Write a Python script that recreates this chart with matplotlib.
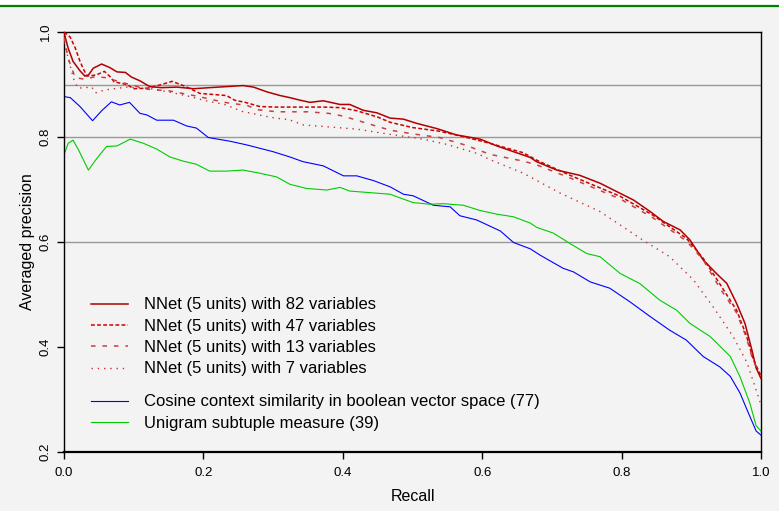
"""Averaged precision vs recall, NNet vs similarity measures."""
import numpy as np
import matplotlib
matplotlib.use('Agg')
from matplotlib import pyplot as plt
from matplotlib.lines import Line2D
from matplotlib.patches import Rectangle

plt.rcParams['font.family'] = ['Liberation Sans', 'DejaVu Sans']

# NNet (5 units) with 82 variables
recall_82 = [0.000, 0.001, 0.006, 0.013, 0.023, 0.030, 0.035, 0.042, 0.054, 0.066,
             0.076, 0.088, 0.097, 0.109, 0.123, 0.140, 0.162, 0.186, 0.209, 0.233,
             0.257, 0.272, 0.291, 0.310, 0.324, 0.339, 0.353, 0.372, 0.396, 0.410,
             0.429, 0.449, 0.468, 0.487, 0.506, 0.535, 0.563, 0.597, 0.621, 0.645,
             0.669, 0.678, 0.707, 0.740, 0.769, 0.793, 0.817, 0.841, 0.860, 0.884,
             0.898, 0.917, 0.936, 0.951, 0.965, 0.977, 0.987, 0.993, 1.000]
prec_82 = [1.000, 0.994, 0.969, 0.944, 0.926, 0.916, 0.918, 0.931, 0.939, 0.932,
           0.924, 0.923, 0.914, 0.907, 0.896, 0.894, 0.895, 0.892, 0.894, 0.896,
           0.898, 0.895, 0.886, 0.879, 0.875, 0.870, 0.866, 0.869, 0.862, 0.862,
           0.851, 0.846, 0.836, 0.834, 0.826, 0.816, 0.804, 0.796, 0.783, 0.772,
           0.761, 0.753, 0.737, 0.727, 0.712, 0.696, 0.680, 0.658, 0.639, 0.623,
           0.604, 0.566, 0.540, 0.521, 0.483, 0.445, 0.394, 0.360, 0.340]

# NNet (5 units) with 47 variables
recall_47 = [0.000, 0.009, 0.016, 0.023, 0.028, 0.033, 0.046, 0.058, 0.066, 0.072,
             0.090, 0.100, 0.120, 0.140, 0.155, 0.173, 0.181, 0.195, 0.214, 0.233,
             0.245, 0.260, 0.281, 0.305, 0.340, 0.372, 0.396, 0.420, 0.450, 0.468,
             0.500, 0.539, 0.575, 0.611, 0.659, 0.678, 0.726, 0.798, 0.845, 0.893,
             0.917, 0.941, 0.965, 0.979, 0.989, 1.000]
prec_47 = [1.000, 0.990, 0.970, 0.944, 0.929, 0.916, 0.918, 0.925, 0.915, 0.905,
           0.900, 0.892, 0.893, 0.900, 0.906, 0.897, 0.892, 0.883, 0.881, 0.879,
           0.870, 0.866, 0.858, 0.857, 0.857, 0.857, 0.856, 0.850, 0.838, 0.828,
           0.818, 0.811, 0.800, 0.788, 0.770, 0.756, 0.727, 0.687, 0.651, 0.607,
           0.569, 0.520, 0.470, 0.422, 0.376, 0.345]

# NNet (5 units) with 13 variables
recall_13 = [0.000, 0.006, 0.016, 0.030, 0.045, 0.060, 0.080, 0.100, 0.120, 0.150,
             0.190, 0.230, 0.263, 0.277, 0.306, 0.350, 0.380, 0.400, 0.420, 0.450,
             0.468, 0.500, 0.539, 0.575, 0.611, 0.659, 0.678, 0.726, 0.798, 0.845,
             0.893, 0.917, 0.941, 0.965, 0.979, 0.989, 1.000]
prec_13 = [0.990, 0.950, 0.913, 0.910, 0.915, 0.913, 0.905, 0.898, 0.891, 0.888,
           0.878, 0.866, 0.860, 0.852, 0.848, 0.848, 0.845, 0.840, 0.832, 0.820,
           0.813, 0.806, 0.799, 0.785, 0.767, 0.754, 0.747, 0.722, 0.682, 0.646,
           0.602, 0.566, 0.512, 0.465, 0.418, 0.372, 0.350]

# NNet (5 units) with 7 variables
recall_7 = [0.000, 0.010, 0.014, 0.020, 0.040, 0.045, 0.060, 0.090, 0.120, 0.150,
            0.181, 0.200, 0.230, 0.240, 0.257, 0.270, 0.287, 0.303, 0.323, 0.343,
            0.373, 0.420, 0.468, 0.515, 0.549, 0.592, 0.611, 0.659, 0.712, 0.769,
            0.830, 0.869, 0.903, 0.931, 0.960, 0.980, 0.995, 1.000]
prec_7 = [0.980, 0.930, 0.910, 0.893, 0.895, 0.884, 0.890, 0.895, 0.893, 0.886,
          0.877, 0.870, 0.862, 0.857, 0.848, 0.845, 0.840, 0.836, 0.833, 0.823,
          0.820, 0.815, 0.805, 0.796, 0.786, 0.769, 0.757, 0.731, 0.693, 0.658,
          0.604, 0.572, 0.528, 0.477, 0.420, 0.370, 0.310, 0.290]

# Cosine context similarity in boolean vector space (77)
recall_cos = [0.000, 0.009, 0.023, 0.041, 0.054, 0.068, 0.080, 0.094, 0.109, 0.119,
              0.133, 0.157, 0.176, 0.190, 0.207, 0.238, 0.262, 0.300, 0.324, 0.343,
              0.372, 0.401, 0.420, 0.444, 0.468, 0.487, 0.501, 0.530, 0.554, 0.568,
              0.592, 0.626, 0.645, 0.669, 0.683, 0.716, 0.731, 0.755, 0.783, 0.812,
              0.841, 0.869, 0.893, 0.917, 0.941, 0.956, 0.970, 0.982, 0.993, 1.000]
prec_cos = [0.877, 0.875, 0.858, 0.831, 0.850, 0.867, 0.861, 0.866, 0.845, 0.842,
            0.832, 0.832, 0.821, 0.817, 0.799, 0.792, 0.785, 0.772, 0.762, 0.753,
            0.745, 0.726, 0.726, 0.717, 0.705, 0.691, 0.688, 0.670, 0.667, 0.650,
            0.642, 0.621, 0.599, 0.587, 0.575, 0.550, 0.543, 0.524, 0.512, 0.486,
            0.458, 0.432, 0.413, 0.382, 0.362, 0.344, 0.312, 0.274, 0.240, 0.232]

# Unigram subtuple measure (39)
recall_uni = [0.000, 0.006, 0.013, 0.021, 0.035, 0.047, 0.061, 0.076, 0.095, 0.114,
              0.133, 0.152, 0.171, 0.190, 0.209, 0.233, 0.257, 0.281, 0.305, 0.324,
              0.348, 0.377, 0.396, 0.410, 0.439, 0.468, 0.482, 0.501, 0.525, 0.544,
              0.573, 0.597, 0.621, 0.645, 0.669, 0.678, 0.702, 0.726, 0.750, 0.769,
              0.798, 0.826, 0.855, 0.879, 0.898, 0.927, 0.956, 0.970, 0.984, 0.993,
              1.000]
prec_uni = [0.766, 0.788, 0.794, 0.775, 0.737, 0.759, 0.782, 0.783, 0.796, 0.788,
            0.777, 0.762, 0.754, 0.748, 0.735, 0.735, 0.737, 0.731, 0.724, 0.710,
            0.702, 0.699, 0.704, 0.697, 0.694, 0.691, 0.684, 0.675, 0.672, 0.673,
            0.670, 0.660, 0.653, 0.648, 0.636, 0.628, 0.617, 0.597, 0.578, 0.572,
            0.540, 0.521, 0.489, 0.470, 0.445, 0.420, 0.382, 0.343, 0.293, 0.250,
            0.240]

labels = ['NNet (5 units) with 82 variables',
          'NNet (5 units) with 47 variables',
          'NNet (5 units) with 13 variables',
          'NNet (5 units) with 7 variables',
          'Cosine context similarity in boolean vector space (77)',
          'Unigram subtuple measure (39)']

bg = '#f3f3f3'
fig = plt.figure(figsize=(7.79, 5.11), dpi=100)
fig.set_facecolor(bg)
# white strip + green rule along the top of the page
fig.add_artist(Rectangle((0, 1 - 6 / 511), 1, 6 / 511, transform=fig.transFigure,
                         facecolor='white', edgecolor='none'))
fig.add_artist(Line2D([0, 1], [1 - 6.5 / 511] * 2, transform=fig.transFigure,
                      color='#008000', lw=1.6))

ax = fig.add_axes([64 / 779, 1 - 452 / 511, 697 / 779, 420 / 511])
ax.set_facecolor(bg)

for yv in [0.6, 0.8, 0.9]:
    ax.axhline(yv, color='#999999', lw=1.0, zorder=1)

h82, = ax.plot(recall_82, prec_82, color='#b00000', lw=1.1, zorder=3)
h47, = ax.plot(recall_47, prec_47, color='#cc0000', lw=1.1,
               linestyle=(0, (2.5, 1.5)), zorder=3)
h13, = ax.plot(recall_13, prec_13, color='#c84040', lw=1.1,
               linestyle=(0, (3, 4.5)), zorder=3)
h7, = ax.plot(recall_7, prec_7, color='#c83030', lw=1.0,
              linestyle=(0, (1, 3.5)), zorder=3)
hcos, = ax.plot(recall_cos, prec_cos, color='#0000ff', lw=0.8, zorder=2)
huni, = ax.plot(recall_uni, prec_uni, color='#00cc00', lw=0.8, zorder=2)

leg_kw = dict(loc='upper left', frameon=False, fontsize=12, handlelength=2.2,
              handletextpad=1.0, labelspacing=0.38, borderpad=0)
leg1 = ax.legend([h82, h47, h13, h7], labels[:4],
                 bbox_to_anchor=(0.027, 0.388), **leg_kw)
ax.add_artist(leg1)
ax.legend([hcos, huni], labels[4:], bbox_to_anchor=(0.027, 0.157), **leg_kw)

ax.set_xlim(0, 1)
ax.set_ylim(0.2, 1.0)
ax.set_xticks(np.arange(0, 1.01, 0.2))
ax.set_yticks(np.arange(0.2, 1.01, 0.2))
ax.set_xticklabels(['0.0', '0.2', '0.4', '0.6', '0.8', '1.0'], fontsize=9.5)
ax.set_yticklabels(['0.2', '0.4', '0.6', '0.8', '1.0'], fontsize=9.5,
                   rotation=90, va='center')
ax.tick_params(direction='out', length=5, width=1)
ax.tick_params(axis='x', pad=6)
ax.tick_params(axis='y', pad=4)
for s in ax.spines.values():
    s.set_linewidth(1.0)
ax.spines['bottom'].set_linewidth(1.6)

ax.set_xlabel('Recall', fontsize=11.5, labelpad=7)
ax.set_ylabel('Averaged precision', fontsize=11.5, labelpad=3)

plt.savefig('out.png', dpi=100, facecolor=bg)
